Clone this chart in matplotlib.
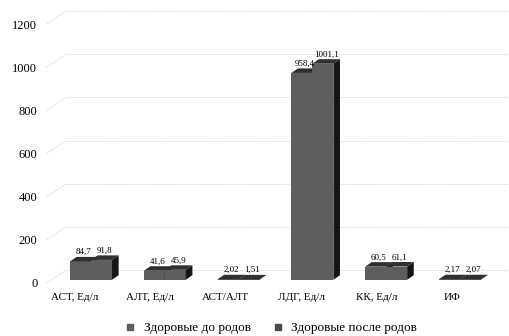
import numpy as np
import matplotlib
matplotlib.use("Agg")
import matplotlib.pyplot as plt
from matplotlib.patches import Polygon
from matplotlib.lines import Line2D

plt.rcParams['font.family'] = ['Liberation Serif', 'DejaVu Serif']

# ---- data ----
categories = ['АСТ, Ед/л', 'АЛТ, Ед/л', 'АСТ/АЛТ', 'ЛДГ, Ед/л', 'КК, Ед/л', 'ИФ']
before = [84.7, 41.6, 2.02, 958.4, 60.5, 2.17]
after = [91.8, 45.9, 1.51, 1001.1, 61.1, 2.07]
before_lbl = ['84,7', '41,6', '2,02', '958,4', '60,5', '2,17']
after_lbl = ['91,8', '45,9', '1,51', '1001,1', '61,1', '2,07']
series_names = ['Здоровые до родов', 'Здоровые после родов']
yticks = [0, 200, 400, 600, 800, 1000, 1200]

# ---- fake 3d geometry (depth offset in data units) ----
DX = 0.25      # full depth, category units
DY = 60.0      # full depth, value units
t0, t1 = 0.25, 0.6   # bar front / back position in depth
w = 0.278

front_c = '#5e5e5e'
top_c = '#303030'
side_c = '#161616'

fig = plt.figure(figsize=(5.09, 3.36), dpi=100)
ax = fig.add_axes([47/509, 0.145, 461/509, 0.84])
xl, xr = -0.364, 5.734
ax.set_xlim(xl, xr)
ax.set_ylim(-20, 1288)
for s in ax.spines.values():
    s.set_visible(False)

# gridlines with slanted floor part
for v in yticks:
    ax.plot([xl, xl + DX], [v, v + DY], color='#d2d2d2', lw=0.6, ls=(0, (1.5, 1)),
            zorder=1, clip_on=False)
    ax.plot([xl + DX, xr], [v + DY, v + DY], color='#d8d8d8', lw=0.6,
            ls=(0, (1.5, 1)), zorder=1, clip_on=False)

x = np.arange(len(categories))
# perspective: bar groups sit slightly right of the labels
centers = 0.218 + 0.976 * x


def draw_series(x0, vals, labels):
    b0 = t0 * DY
    ax.bar(x0, vals, width=w, bottom=b0, align='edge', color=front_c,
           edgecolor='none', zorder=3)
    dx = (t1 - t0) * DX
    dy = (t1 - t0) * DY
    for xi, v, lab in zip(x0, vals, labels):
        top = b0 + v
        ax.add_patch(Polygon([(xi, top), (xi + w, top), (xi + w + dx, top + dy),
                              (xi + dx, top + dy)], closed=True,
                             facecolor=top_c, edgecolor='none', zorder=3))
        ax.add_patch(Polygon([(xi + w, b0), (xi + w + dx, b0 + dy),
                              (xi + w + dx, top + dy), (xi + w, top)], closed=True,
                             facecolor=side_c, edgecolor='none', zorder=3))
        ax.text(xi + w / 2 + dx / 2, top + dy + 3, lab, ha='center', va='bottom',
                fontsize=6.5, zorder=5)


draw_series(centers - w, before, before_lbl)
draw_series(centers, after, after_lbl)

ax.set_yticks(yticks)
ax.set_yticklabels([str(v) for v in yticks], fontsize=9)
ax.set_xticks(x)
ax.set_xticklabels(categories, fontsize=8)
ax.tick_params(axis='y', length=0, pad=7)
ax.tick_params(axis='x', length=0, pad=4)

handles = [Line2D([], [], marker='s', ls='none', color='#5e5e5e', markersize=5),
           Line2D([], [], marker='s', ls='none', color='#4a4a4a', markersize=5)]
fig.legend(handles, series_names, loc='lower center', ncol=2, frameon=False,
           prop={'family': 'Liberation Serif', 'size': 9.5},
           bbox_to_anchor=(0.525, -0.03), handletextpad=0.05,
           columnspacing=1.0)

fig.savefig('out.png', dpi=100)
